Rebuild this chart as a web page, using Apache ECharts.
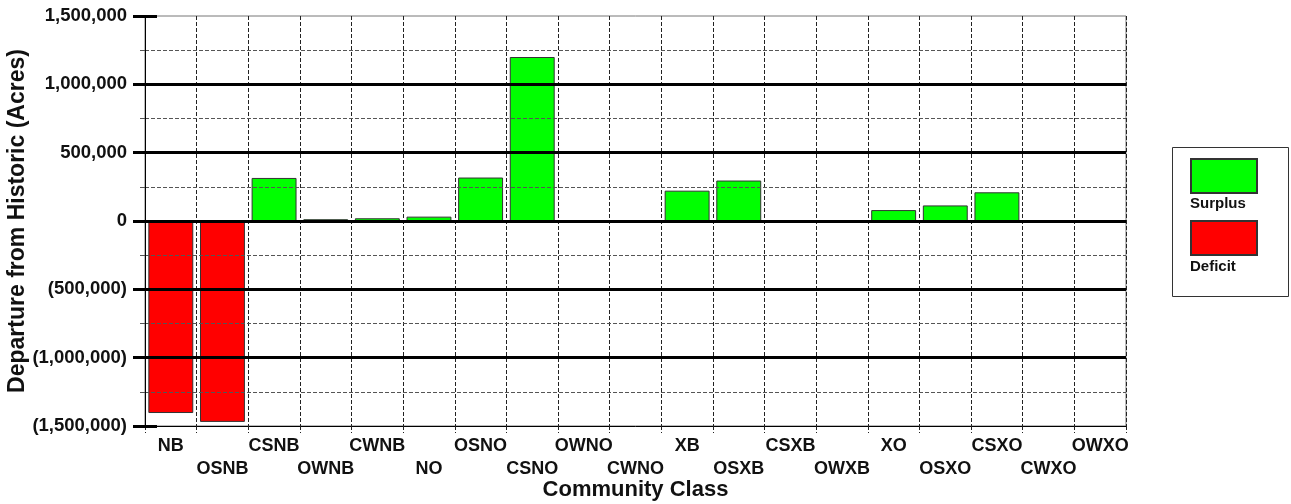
<!DOCTYPE html>
<html>
<head>
<meta charset="utf-8">
<script src="https://cdn.jsdelivr.net/npm/echarts@6/dist/echarts.min.js"></script>
<style>
html,body{margin:0;padding:0;background:#fff;}
#chart{width:1291px;height:504px;}
</style>
</head>
<body>
<div id="chart"></div>
<script>
const categories = ['NB','OSNB','CSNB','OWNB','CWNB','NO','OSNO','CSNO','OWNO','CWNO','XB','OSXB','CSXB','OWXB','XO','OSXO','CSXO','CWXO','OWXO'];
const surplusValues = [null, null, 315000, 13000, 20000, 32000, 318000, 1200000, null, null, 222000, 296000, null, null, 80000, 114000, 210000, null, null];
const deficitValues = [-1405000, -1470000, null, null, null, null, null, null, null, null, null, null, null, null, null, null, null, null, null];
const yMin = -1500000, yMax = 1500000, majorStep = 500000, minorStep = 250000;
const seriesNames = ['Surplus', 'Deficit'];

const FONT = "'Liberation Sans', Arial, Helvetica, sans-serif";
function fmt(v) {
  const s = Math.abs(v).toLocaleString('en-US');
  return v < 0 ? '(' + s + ')' : s;
}

const chart = echarts.init(document.getElementById('chart'), null, {renderer: 'canvas'});
const option = {
  backgroundColor: '#fff',
  animation: false,
  grid: {left: 145, right: 165, top: 16, bottom: 78, show: true, borderColor: '#777', borderWidth: 1,
         backgroundColor: 'transparent', outerBoundsMode: 'none', containLabel: false},
  graphic: [{
    type: 'rect', left: 1172, top: 147, z: 0,
    shape: {width: 116, height: 149},
    style: {fill: '#fff', stroke: '#333', lineWidth: 1}
  }],
  legend: [{
    data: seriesNames, orient: 'vertical', left: 1190, top: 158, padding: 0,
    itemWidth: 66, itemHeight: 34, itemGap: 26, icon: 'rect',
    formatter: function () { return ''; },
    selectedMode: false
  }, {
    data: seriesNames, orient: 'vertical', left: 1184, top: 196, padding: 0,
    itemWidth: 1, itemHeight: 16, itemGap: 47, icon: 'rect',
    itemStyle: {opacity: 0, borderWidth: 0},
    selectedMode: false,
    textStyle: {fontFamily: FONT, fontWeight: 'bold', fontSize: 15, color: '#111', padding: 0}
  }],
  xAxis: {
    type: 'category', data: categories, boundaryGap: true,
    axisLine: {onZero: false, lineStyle: {color: '#000', width: 1}},
    axisTick: {show: true, interval: 0, length: 7, lineStyle: {color: '#222', type: [4, 2]}},
    axisLabel: {
      interval: 0, margin: 9, lineHeight: 23,
      fontFamily: FONT, fontWeight: 'bold', fontSize: 18, color: '#111',
      formatter: function (v, i) { return i % 2 ? '\n' + v : v; }
    },
    splitLine: {show: true, interval: 0, lineStyle: {color: '#222', type: [4, 2], width: 1}},
    name: 'Community Class', nameLocation: 'middle', nameGap: 53, nameMoveOverlap: false,
    nameTextStyle: {fontFamily: FONT, fontWeight: 'bold', fontSize: 22, color: '#111'}
  },
  yAxis: [{
    type: 'value', position: 'left', offset: 0, min: yMin, max: yMax, interval: majorStep, z: 5,
    axisLine: {show: true, lineStyle: {color: '#000', width: 1}},
    axisTick: {show: true, length: 12, lineStyle: {color: '#000', width: 3}},
    axisLabel: {margin: 18, fontFamily: FONT, fontWeight: 'bold', fontSize: 18.5, color: '#111', formatter: fmt},
    splitLine: {show: true, showMinLine: false, showMaxLine: false, lineStyle: {color: '#000', width: 3}},
    name: 'Departure from Historic (Acres)', nameLocation: 'middle', nameGap: 116, nameMoveOverlap: false,
    nameTextStyle: {fontFamily: FONT, fontWeight: 'bold', fontSize: 23, color: '#111'}
  }, {
    type: 'value', position: 'left', offset: 0, min: yMin, max: yMax, interval: majorStep, z: 5,
    axisLine: {show: false},
    axisTick: {show: true, inside: true, length: 12, lineStyle: {color: '#000', width: 3}},
    axisLabel: {show: false},
    splitLine: {show: false}
  }, {
    type: 'value', position: 'left', offset: 0, min: yMin, max: yMax, interval: minorStep, z: 4,
    axisLine: {show: false},
    axisTick: {show: true, length: 5, lineStyle: {color: '#555', width: 1}},
    axisLabel: {show: false},
    splitLine: {show: true, showMinLine: false, showMaxLine: false, lineStyle: {color: '#555', type: [4, 2], width: 1}}
  }],
  series: [{
    name: seriesNames[0], type: 'bar', yAxisIndex: 0, data: surplusValues,
    barGap: '-100%', barCategoryGap: '13%',
    itemStyle: {color: '#00ff00', borderColor: '#333', borderWidth: 1}
  }, {
    name: seriesNames[1], type: 'bar', yAxisIndex: 0, data: deficitValues,
    barGap: '-100%', barCategoryGap: '13%',
    itemStyle: {color: '#ff0000', borderColor: '#333', borderWidth: 1}
  }]
};
chart.setOption(option);
</script>
</body>
</html>
